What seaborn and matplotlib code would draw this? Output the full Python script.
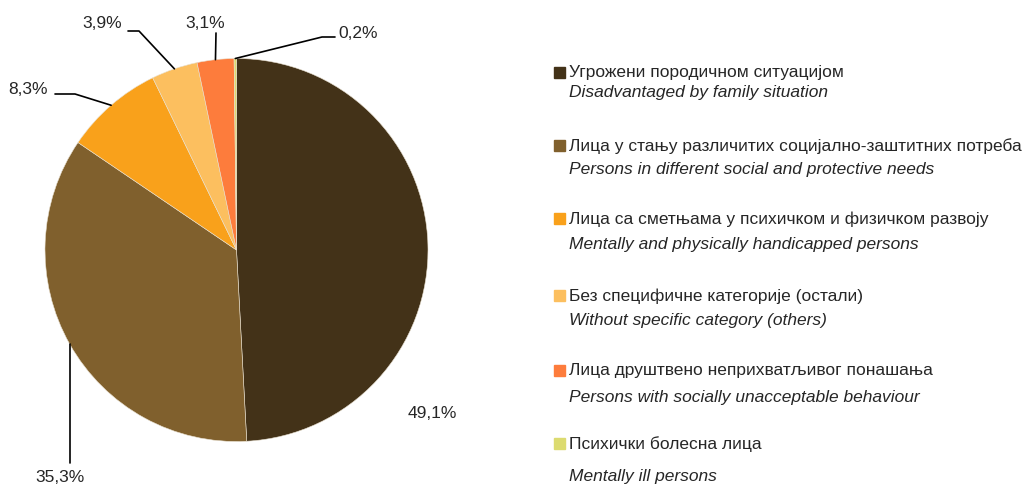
import numpy as np
import matplotlib
matplotlib.use("Agg")
import matplotlib.pyplot as plt
import seaborn as sns

# data
categories_sr = ["Угрожени породичном ситуацијом",
                 "Лица у стању различитих социјално-заштитних потреба",
                 "Лица са сметњама у психичком и физичком развоју",
                 "Без специфичне категорије (остали)",
                 "Лица друштвено неприхватљивог понашања",
                 "Психички болесна лица"]
categories_en = ["Disadvantaged by family situation",
                 "Persons in different social and protective needs",
                 "Mentally and physically handicapped persons",
                 "Without specific category (others)",
                 "Persons with socially unacceptable behaviour",
                 "Mentally ill persons"]
shares = [49.1, 35.3, 8.3, 3.9, 3.1, 0.2]
labels = ["49,1%", "35,3%", "8,3%", "3,9%", "3,1%", "0,2%"]
colors = ["#433218", "#80602d", "#f9a11b", "#fcbf5f", "#fd7c3c", "#dcdb70"]

sns.set_style("white")
plt.rcParams['font.family'] = ['Liberation Sans Narrow', 'Liberation Sans', 'DejaVu Sans']

W, H = 1027, 489
fig = plt.figure(figsize=(W / 100, H / 100), dpi=100)
ax = fig.add_axes([0, 0, 540 / W, 1])

cx, cy, r = 236.5, 251, 191.5
# y axis is inverted, so counterclock=True draws clockwise on screen
wedges, _ = ax.pie(shares, colors=colors, startangle=-90, counterclock=True,
                   center=(cx, cy), radius=r, frame=True,
                   wedgeprops=dict(linewidth=0.4, edgecolor="#e8e0d0"))
ax.set_xlim(0, 540)
ax.set_ylim(H, 0)
ax.set_aspect("equal")
ax.axis("off")


def edge_point(i):
    cum = sum(shares[:i]) + shares[i] / 2
    a = np.deg2rad(cum / sum(shares) * 360)
    return cx + r * np.sin(a), cy - r * np.cos(a)


fs = 12.5
# 49,1% - no leader
ax.text(432, 413, labels[0], ha="center", va="center", fontsize=fs)
# 35,3%
x, y = edge_point(1)
ax.plot([x, x], [y, 464], color="black", lw=1.2)
ax.text(60, 477, labels[1], ha="center", va="center", fontsize=fs)
# 8,3%
x, y = edge_point(2)
ax.plot([55, 75, x], [95, 95, y], color="black", lw=1.2)
ax.text(28, 89, labels[2], ha="center", va="center", fontsize=fs)
# 3,9%
x, y = edge_point(3)
ax.plot([128, 139, x], [32, 32, y], color="black", lw=1.2)
ax.text(102, 23, labels[3], ha="center", va="center", fontsize=fs)
# 3,1%
x, y = edge_point(4)
ax.plot([216, x], [34, y], color="black", lw=1.2)
ax.text(205, 23, labels[4], ha="center", va="center", fontsize=fs)
# 0,2%
x, y = edge_point(5)
ax.plot([335, 322, x], [38, 38, y], color="black", lw=1.2)
ax.text(358, 33, labels[5], ha="center", va="center", fontsize=fs)

# legend
sr_y = [73, 146, 219, 296, 371, 444]
en_y = [93, 170, 244, 320, 398, 477]
for i in range(len(shares)):
    yf = 1 - sr_y[i] / H
    fig.patches.append(plt.Rectangle((554 / W, yf - 5.5 / H), 11 / W, 11 / H,
                                     transform=fig.transFigure, color=colors[i],
                                     figure=fig))
    fig.text(569 / W, yf, categories_sr[i], ha="left", va="center", fontsize=fs)
    fig.text(569 / W, 1 - en_y[i] / H, categories_en[i], ha="left", va="center",
             fontsize=fs, style="italic")

fig.savefig("out.png", dpi=100)
